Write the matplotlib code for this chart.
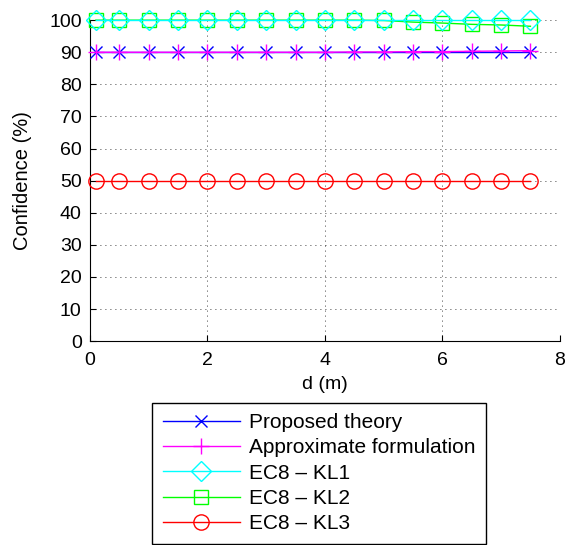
import matplotlib
matplotlib.use('Agg')
import matplotlib.pyplot as plt

plt.rcParams['font.family'] = ['Liberation Sans', 'DejaVu Sans']

d = [0.1, 0.5, 1.0, 1.5, 2.0, 2.5, 3.0, 3.5, 4.0, 4.5, 5.0, 5.5, 6.0, 6.5, 7.0, 7.5]
proposed = [90.0] * 16
approx = [90.0, 90.0, 90.0, 90.0, 90.0, 90.0, 90.0, 90.0, 90.0, 90.1, 90.1, 90.2, 90.2, 90.3, 90.4, 90.5]
kl1 = [100.0] * 16
kl2 = [100.0, 100.0, 100.0, 100.0, 100.0, 100.0, 100.0, 100.0, 100.0, 100.0, 99.9, 99.4, 99.1, 98.7, 98.5, 98.1]
kl3 = [50.0] * 16

fig = plt.figure(figsize=(5.66, 5.45), dpi=100)
ax = fig.add_axes([0.159, 0.374, 0.83, 0.589])

ax.plot(d, proposed, color='blue', marker='x', ms=8, mew=1, lw=1, clip_on=False, zorder=3, label='Proposed theory')
ax.plot(d, approx, color='magenta', marker='+', ms=12, mew=1, lw=1, clip_on=False, zorder=4, label='Approximate formulation')
ax.plot(d, kl1, color='cyan', marker='D', ms=10, mfc='none', mew=1, lw=1, clip_on=False, zorder=4, label='EC8 – KL1')
ax.plot(d, kl2, color='lime', marker='s', ms=10, mfc='none', mew=1, lw=1, clip_on=False, zorder=3, label='EC8 – KL2')
ax.plot(d, kl3, color='red', marker='o', ms=11, mfc='none', mew=1, lw=1, clip_on=False, zorder=3, label='EC8 – KL3')

ax.set_xlim(0, 8)
ax.set_ylim(0, 100)
ax.set_xticks([0, 2, 4, 6, 8])
ax.set_yticks(range(0, 101, 10))
ax.grid(True, color='black', linestyle=(0, (1, 5)), linewidth=0.6)
ax.spines['top'].set_visible(False)
ax.spines['right'].set_visible(False)
ax.tick_params(labelsize=14, direction='in', length=4)
ax.tick_params(axis='x', pad=8)
ax.tick_params(axis='y', pad=6)
ax.set_xlabel('d (m)', fontsize=14, labelpad=5)
ax.set_ylabel('Confidence (%)', fontsize=14.5, labelpad=12)

leg = fig.legend(loc='upper left', bbox_to_anchor=(0.269, 0.261), fontsize=15,
                 fancybox=False, edgecolor='black', framealpha=1, handlelength=3.7,
                 handletextpad=0.45, borderaxespad=0, labelspacing=0.3, borderpad=0.5)
leg.get_frame().set_linewidth(1)

fig.savefig('out.png', dpi=100)
